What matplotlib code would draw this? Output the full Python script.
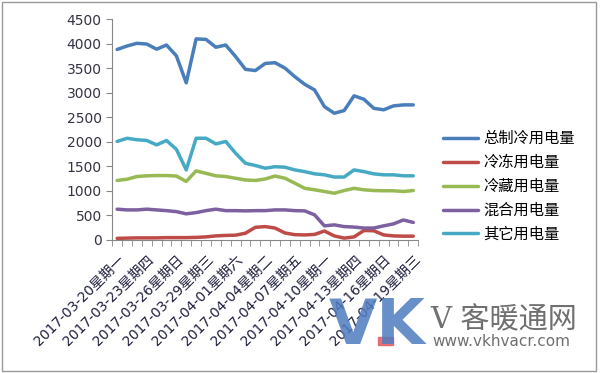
import numpy as np
import matplotlib.pyplot as plt
from matplotlib.patches import Rectangle

plt.rcParams['font.family'] = ['DejaVu Sans', 'Noto Sans CJK SC']

# 日期标签 (每3天一个)
tick_labels = ['2017-03-20星期一', '2017-03-23星期四', '2017-03-26星期日',
               '2017-03-29星期三', '2017-04-01星期六', '2017-04-04星期二',
               '2017-04-07星期五', '2017-04-10星期一', '2017-04-13星期四',
               '2017-04-16星期日', '2017-04-19星期三']

total = [3880, 3950, 4005, 3990, 3885, 3970, 3750, 3200, 4095, 4085, 3925,
         3970, 3735, 3475, 3450, 3595, 3610, 3500, 3325, 3170, 3055, 2715,
         2580, 2635, 2935, 2865, 2680, 2650, 2730, 2750, 2750]
frozen = [30, 35, 40, 40, 40, 45, 45, 45, 50, 60, 80, 90, 95, 135, 255, 270,
          240, 140, 105, 100, 110, 180, 80, 35, 60, 190, 185, 100, 80, 75, 75]
chilled = [1210, 1235, 1290, 1305, 1310, 1310, 1300, 1190, 1405, 1355, 1305,
           1290, 1255, 1220, 1210, 1240, 1300, 1255, 1155, 1050, 1020, 985,
           950, 1005, 1050, 1020, 1005, 1000, 1000, 985, 1005]
mixed = [625, 610, 610, 625, 610, 595, 575, 530, 555, 595, 625, 595, 595, 590,
         595, 595, 610, 610, 595, 590, 510, 285, 305, 270, 260, 240, 240, 285,
         325, 405, 355]
other = [2005, 2070, 2040, 2025, 1935, 2025, 1845, 1425, 2070, 2070, 1955,
         2005, 1765, 1560, 1515, 1460, 1490, 1480, 1425, 1390, 1345, 1325,
         1280, 1280, 1425, 1390, 1345, 1325, 1325, 1305, 1305]

names = ['总制冷用电量', '冷冻用电量', '冷藏用电量', '混合用电量', '其它用电量']
colors = ['#4A7EBB', '#BE4B48', '#98B954', '#7D60A0', '#46AAC5']

x = np.arange(len(total))

fig = plt.figure(figsize=(6, 3.73), dpi=100)
ax = fig.add_axes([0.187, 0.357, 0.51, 0.592])

for ys, name, c in zip([total, frozen, chilled, mixed, other], names, colors):
    ax.plot(x, ys, color=c, lw=2.5, label=name, solid_capstyle='round')

ax.set_xlim(-0.5, len(x) - 0.5)
ax.set_ylim(0, 4500)
ax.set_yticks(np.arange(0, 4501, 500))
ax.set_xticks(x[::3])
ax.set_xticklabels(tick_labels, rotation=45, ha='right', rotation_mode='anchor',
                   fontsize=10, color='#1F1F3F')
ax.set_xticks(np.arange(-0.5, len(x), 1), minor=True)
ax.tick_params(axis='x', which='major', length=0, pad=9)
ax.tick_params(axis='x', which='minor', length=4, color='#888888')
ax.tick_params(axis='y', length=4, color='#888888', labelsize=10, labelcolor='#333344')
for s in ['top', 'right']:
    ax.spines[s].set_visible(False)
for s in ['left', 'bottom']:
    ax.spines[s].set_color('#888888')

fig.legend(loc='center left', bbox_to_anchor=(0.715, 0.50), frameon=False,
           fontsize=11, handlelength=2.3, handletextpad=0.35, labelspacing=0.58)

# 水印
fig.text(0.548, 0.078, 'VK', fontsize=45, fontweight='bold', color='#4F7CBF',
         alpha=0.85, ha='left', va='baseline')
fig.patches.append(Rectangle((0.630, 0.075), 0.025, 0.022, transform=fig.transFigure,
                             color='#E8606A', alpha=0.9))
fig.text(0.717, 0.12, 'V 客暖通网', fontsize=21, color='#707070', ha='left',
         va='baseline', family=['DejaVu Serif', 'Noto Sans CJK SC'])
fig.text(0.72, 0.072, 'www.vkhvacr.com', fontsize=11, color='#707070', ha='left',
         va='baseline')

fig.patches.append(Rectangle((0.004, 0.006), 0.99, 0.988, transform=fig.transFigure,
                             fill=False, edgecolor='#999999', lw=1))

fig.savefig('out.png', dpi=100)
